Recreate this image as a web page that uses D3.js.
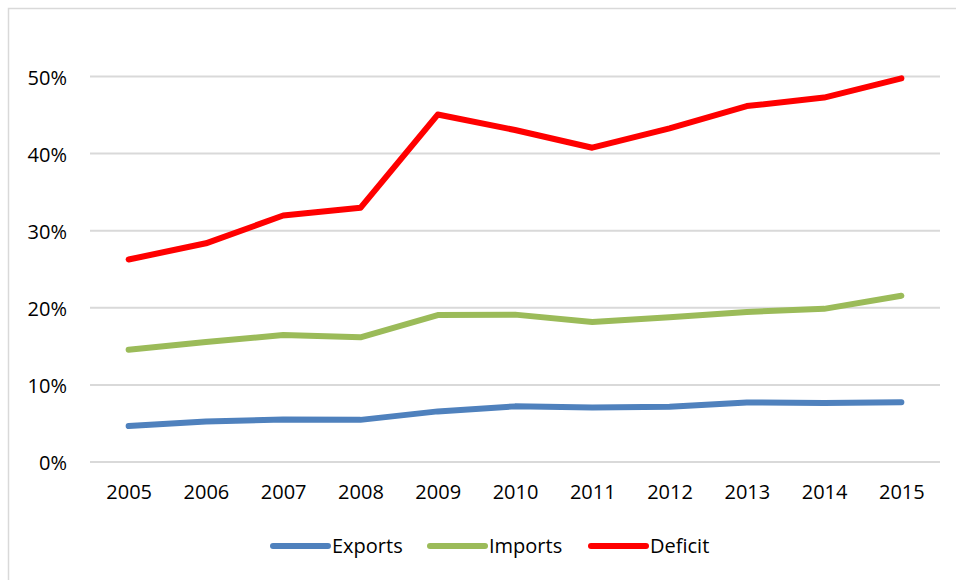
<!DOCTYPE html>
<html>
<head>
<meta charset="utf-8">
<script src="https://cdn.jsdelivr.net/npm/d3@7"></script>
<style>
  html, body { margin: 0; padding: 0; background: #fff; }
  svg { display: block; }
  text { font-family: "Open Sans", "Liberation Sans", sans-serif; fill: #000; }
</style>
</head>
<body>
<svg id="chart" width="956" height="580"></svg>
<script>
// Years along the horizontal axis
const years = ["2005", "2006", "2007", "2008", "2009", "2010", "2011", "2012", "2013", "2014", "2015"];

// Shares in percent
const exports = [4.6, 5.2, 5.45, 5.4, 6.5, 7.15, 7.0, 7.1, 7.65, 7.6, 7.7];
const imports = [14.5, 15.5, 16.4, 16.1, 19.0, 19.05, 18.1, 18.7, 19.4, 19.8, 21.5];
const deficit = [26.2, 28.3, 31.9, 32.9, 45.0, 43.0, 40.7, 43.2, 46.1, 47.2, 49.7];

const yTicks = [0, 10, 20, 30, 40, 50];

const seriesNames = ["Exports", "Imports", "Deficit"];
const seriesColors = ["#4F81BD", "#9BBB59", "#FF0000"];
const seriesValues = [exports, imports, deficit];

const svg = d3.select("#chart");

// outer frame, running off the right and bottom edges
svg.append("rect")
  .attr("x", 8.5).attr("y", 8.5)
  .attr("width", 1000).attr("height", 1000)
  .attr("fill", "#fff")
  .attr("stroke", "#d9d9d9")
  .attr("stroke-width", 1.5);

const plot = { left: 90, right: 940, top: 76, bottom: 461.5 };

const x = d3.scalePoint()
  .domain(years)
  .range([plot.left, plot.right])
  .padding(0.5);

const y = d3.scaleLinear()
  .domain([0, 50])
  .range([plot.bottom, plot.top]);

// horizontal gridlines and percent labels
const yAxis = d3.axisLeft(y)
  .tickValues(yTicks)
  .tickFormat(d => d + "%")
  .tickSize(-(plot.right - plot.left))
  .tickPadding(23);

const gy = svg.append("g")
  .attr("transform", `translate(${plot.left},0)`)
  .call(yAxis);
gy.select(".domain").remove();
gy.selectAll(".tick line")
  .attr("stroke", "#d9d9d9")
  .attr("stroke-width", 2);
gy.selectAll(".tick text")
  .style("font-size", "20px")
  .attr("dy", "0.4em");

// year labels
const xAxis = d3.axisBottom(x).tickSize(0).tickPadding(23);
const gx = svg.append("g")
  .attr("transform", `translate(0,${plot.bottom})`)
  .call(xAxis);
gx.select(".domain").remove();
gx.selectAll(".tick text")
  .style("font-size", "20px");

// series lines
const line = d3.line()
  .x((d, i) => x(years[i]))
  .y(d => y(d));

seriesValues.forEach((vals, k) => {
  svg.append("path")
    .datum(vals)
    .attr("d", line)
    .attr("fill", "none")
    .attr("stroke", seriesColors[k])
    .attr("stroke-width", 6)
    .attr("stroke-linecap", "round")
    .attr("stroke-linejoin", "round");
});

// legend
const legendX = [273, 430, 591];
const legendY = 546;
const legend = svg.append("g");
seriesNames.forEach((name, k) => {
  const g = legend.append("g").attr("transform", `translate(${legendX[k]},${legendY})`);
  g.append("line")
    .attr("x1", 0).attr("x2", 55)
    .attr("y1", 0).attr("y2", 0)
    .attr("stroke", seriesColors[k])
    .attr("stroke-width", 6)
    .attr("stroke-linecap", "round");
  g.append("text")
    .attr("x", 59)
    .attr("y", 0)
    .attr("dy", "0.35em")
    .style("font-size", "20px")
    .text(name);
});
</script>
</body>
</html>
